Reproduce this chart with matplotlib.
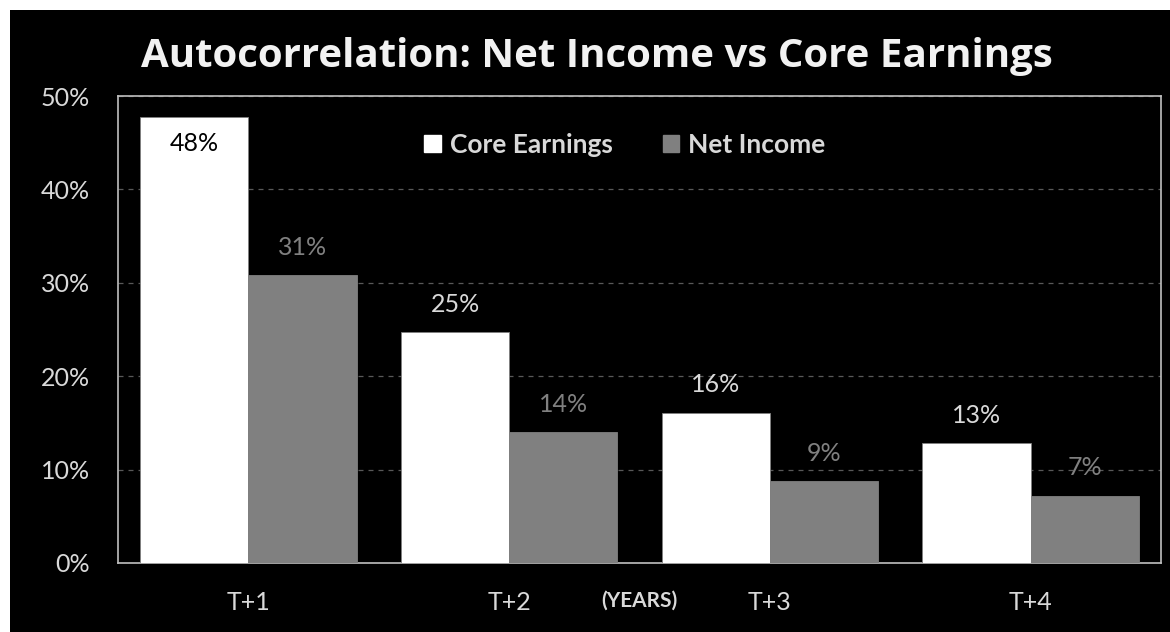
import numpy as np
import matplotlib
matplotlib.use('Agg')
import matplotlib.pyplot as plt
import matplotlib.transforms as mtransforms
from matplotlib.patches import Rectangle, Patch

plt.rcParams['font.family'] = ['Lato', 'DejaVu Sans']

categories = ['T+1', 'T+2', 'T+3', 'T+4']
core_earnings = [47.8, 24.7, 16.1, 12.8]
net_income = [30.8, 14.0, 8.8, 7.2]
core_labels = ['48%', '25%', '16%', '13%']
net_labels = ['31%', '14%', '9%', '7%']
y_ticks = [0, 10, 20, 30, 40, 50]

light = '#d9d9d9'
grey = '#808080'

fig = plt.figure(figsize=(11.7, 6.32), dpi=100, facecolor='white')
# black panel, with a thin white margin top and left
fig.patches.append(Rectangle((10 / 1170, 0), 1, 1 - 10 / 632, transform=fig.transFigure,
                             facecolor='black', edgecolor='none', zorder=-5))

ax = fig.add_axes([118 / 1170, 69 / 632, 1043 / 1170, 467 / 632])
ax.set_facecolor('black')

x = np.arange(len(categories))
w = 0.415
ax.bar(x - w / 2, core_earnings, w, color='white', edgecolor='#7f7f7f', linewidth=0.6, zorder=3)
ax.bar(x + w / 2, net_income, w, color=grey, edgecolor=grey, linewidth=0.6, zorder=3)

# data labels
for i, (v, lab) in enumerate(zip(core_earnings, core_labels)):
    if i == 0:
        ax.annotate(lab, (x[i] - w / 2, v), xytext=(0, -19.5), textcoords='offset points',
                    ha='center', va='center', color='black', fontsize=18, zorder=4)
    else:
        ax.annotate(lab, (x[i] - w / 2, v), xytext=(0, 20), textcoords='offset points',
                    ha='center', va='center', color=light, fontsize=18, zorder=4)
for i, (v, lab) in enumerate(zip(net_income, net_labels)):
    ax.annotate(lab, (x[i] + w / 2, v), xytext=(0, 20), textcoords='offset points',
                ha='center', va='center', color=grey, fontsize=18, zorder=4)

ax.set_xlim(-0.5, 3.5)
ax.set_ylim(0, 50)
ax.set_yticks(y_ticks)
ax.set_yticklabels([f'{t}%' for t in y_ticks])
ax.set_xticks(x)
ax.set_xticklabels(categories)
ax.tick_params(axis='both', length=0, colors=light, labelsize=18)
ax.tick_params(axis='y', pad=20)
ax.tick_params(axis='x', pad=20)

ax.yaxis.grid(True, linestyle=(0, (4, 4)), color='#595959', linewidth=0.9, zorder=0)
ax.set_axisbelow(True)
for s in ax.spines.values():
    s.set_color('#bfbfbf')
    s.set_linewidth(1.2)

trans = mtransforms.blended_transform_factory(ax.transData, ax.transAxes)
ax.text(1.5, -0.081, '(YEARS)', transform=trans, ha='center', va='center',
        color=light, fontsize=15, fontweight='bold')

handles = [Patch(facecolor='white', edgecolor='white'), Patch(facecolor=grey, edgecolor=grey)]
leg = ax.legend(handles, ['Core Earnings', 'Net Income'], loc='center',
                bbox_to_anchor=(0.486, 0.896), ncol=2, frameon=False,
                prop={'weight': 'bold', 'size': 19}, labelcolor=light,
                handlelength=0.62, handleheight=0.62, handletextpad=0.35, columnspacing=1.9)

fig.text(597 / 1170, 1 - 57 / 632, 'Autocorrelation: Net Income vs Core Earnings',
         ha='center', va='center', color='#f2f2f2', fontsize=29, fontweight='bold',
         family=['Open Sans', 'DejaVu Sans'])

fig.savefig('out.png', dpi=100, facecolor=fig.get_facecolor())
